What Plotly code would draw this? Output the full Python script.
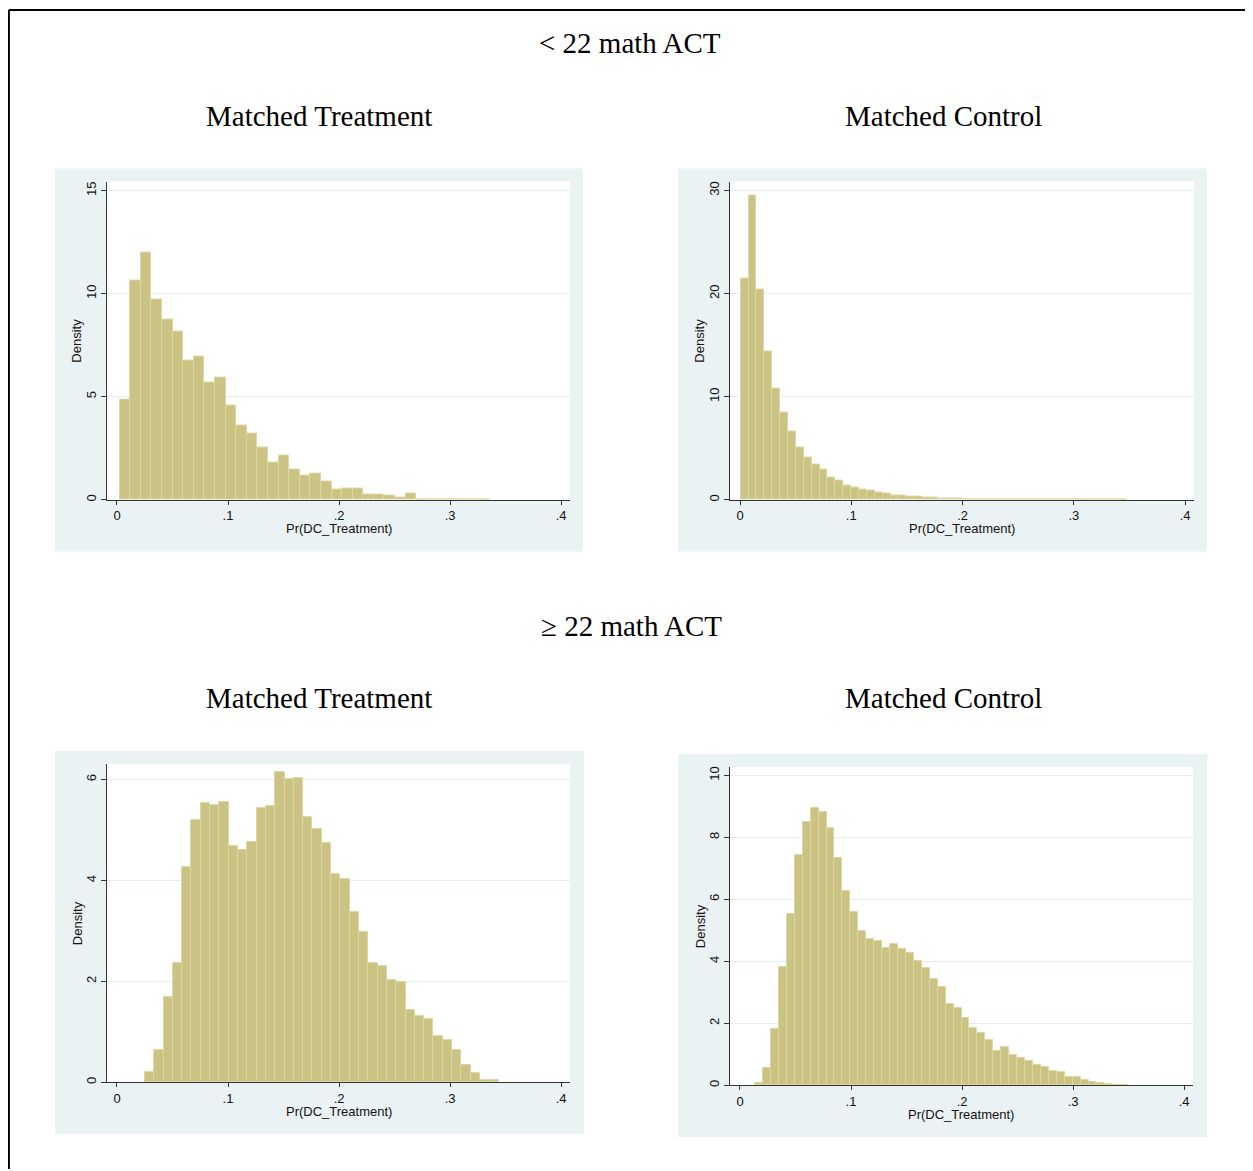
import plotly.graph_objects as go

OFF = 8                      # page body margin of the browser
W, H = 1253 - OFF, 1171 - OFF

# ---------------- data ----------------
group_titles = ["< 22 math ACT", "\u2265 22 math ACT"]
panel_titles = ["Matched Treatment", "Matched Control"]
x_title = "Pr(DC_Treatment)"
y_title = "Density"
x_tickvals = [0, 0.1, 0.2, 0.3, 0.4]
x_ticktext = ["0", ".1", ".2", ".3", ".4"]

# bin start and bin width for each histogram
lo_treat_start, lo_treat_width = 0.0024, 0.00954
lo_ctrl_start, lo_ctrl_width = 0.0006, 0.00709
hi_treat_start, hi_treat_width = 0.0252, 0.00838
hi_ctrl_start, hi_ctrl_width = 0.0136, 0.00715

lo_treat_density = [4.87, 10.65, 11.98, 9.71, 8.74, 8.16, 6.74, 6.95, 5.71, 5.94,
                    4.58, 3.61, 3.23, 2.52, 1.82, 2.13, 1.48, 1.16, 1.29, 0.90,
                    0.48, 0.52, 0.52, 0.24, 0.24, 0.19, 0.13, 0.29, 0.03, 0.03,
                    0, 0, 0, 0, 0.03]
lo_ctrl_density = [21.5, 29.5, 20.4, 14.4, 10.8, 8.45, 6.6, 5.1, 4.1, 3.42,
                   2.93, 2.15, 1.86, 1.41, 1.22, 1.03, 0.93, 0.74, 0.64, 0.45,
                   0.45, 0.35, 0.35, 0.26, 0.26, 0.16, 0.16, 0.08, 0.06, 0.05,
                   0.05, 0.04, 0.04, 0.03, 0.03, 0.02, 0.02, 0.03, 0.03, 0.03,
                   0.03, 0.03, 0.03, 0, 0, 0.03, 0, 0, 0.03]
hi_treat_density = [0.21, 0.63, 1.68, 2.36, 4.26, 5.20, 5.54, 5.50, 5.56, 4.68,
                    4.61, 4.76, 5.44, 5.48, 6.15, 6.01, 6.03, 5.26, 5.02, 4.74,
                    4.13, 4.03, 3.37, 2.97, 2.36, 2.30, 2.03, 1.99, 1.44, 1.32,
                    1.25, 0.91, 0.83, 0.63, 0.35, 0.19, 0.05, 0.05]
hi_ctrl_density = [0.08, 0.57, 1.80, 3.82, 5.53, 7.43, 8.49, 8.95, 8.82, 8.30,
                   7.33, 6.27, 5.59, 4.98, 4.72, 4.66, 4.43, 4.56, 4.40, 4.27,
                   4.01, 3.78, 3.43, 3.17, 2.62, 2.49, 2.17, 1.85, 1.69, 1.46,
                   1.11, 1.24, 0.98, 0.88, 0.78, 0.66, 0.59, 0.46, 0.43, 0.27,
                   0.27, 0.17, 0.11, 0.08, 0.04, 0.02, 0.02]

y_ticks = [[0, 5, 10, 15], [0, 10, 20, 30], [0, 2, 4, 6], [0, 2, 4, 6, 8, 10]]
y_tops = [15.44, 30.87, 6.31, 10.27]

# ---------------- layout geometry (page pixels) ----------------
plot_boxes = [(107, 570, 181, 500), (730, 1194, 181, 500),
              (107, 570, 765, 1084), (730, 1193, 768, 1087)]
bg_boxes = [(55, 583, 168, 552), (678, 1207, 168, 552),
            (55, 584, 752, 1136), (678, 1207, 755, 1139)]

FILL = "rgb(203,195,131)"
EDGE = "rgb(221,215,163)"
BG = "#EAF2F3"
AXC = "#333333"


def px(x):
    return (x - OFF) / W


def py(y):
    return 1 - (y - OFF) / H


fig = go.Figure()

hists = [(lo_treat_start, lo_treat_width, lo_treat_density),
         (lo_ctrl_start, lo_ctrl_width, lo_ctrl_density),
         (hi_treat_start, hi_treat_width, hi_treat_density),
         (hi_ctrl_start, hi_ctrl_width, hi_ctrl_density)]

for i, (start, width, dens) in enumerate(hists):
    n = i + 1
    centers = [start + (k + 0.5) * width for k in range(len(dens))]
    fig.add_trace(go.Bar(
        x=centers, y=dens, width=width,
        marker=dict(color=FILL, line=dict(color=EDGE, width=1)),
        xaxis="x" if n == 1 else f"x{n}",
        yaxis="y" if n == 1 else f"y{n}",
        showlegend=False, hoverinfo="skip",
    ))
    x0, x1, y0, y1 = plot_boxes[i]
    xa = dict(domain=[px(x0), px(x1)], range=[-0.009, 0.408],
              tickvals=x_tickvals, ticktext=x_ticktext,
              ticks="outside", ticklen=4, tickcolor=AXC, tickwidth=1,
              showline=True, linecolor=AXC, linewidth=1,
              showgrid=False, zeroline=False,
              tickfont=dict(family="Liberation Sans", size=13, color="#111"),
              anchor="y" if n == 1 else f"y{n}", fixedrange=True)
    ya = dict(domain=[py(y1), py(y0)], range=[0, y_tops[i]],
              tickvals=y_ticks[i], ticktext=[str(v) for v in y_ticks[i]],
              tickangle=-90,
              ticks="outside", ticklen=5, tickcolor=AXC, tickwidth=1,
              showline=True, linecolor=AXC, linewidth=1,
              showgrid=True, gridcolor="#E4EDEF", gridwidth=1, zeroline=False,
              tickfont=dict(family="Liberation Sans", size=13, color="#111"),
              anchor="x" if n == 1 else f"x{n}", fixedrange=True)
    fig.layout["xaxis" if n == 1 else f"xaxis{n}"] = xa
    fig.layout["yaxis" if n == 1 else f"yaxis{n}"] = ya

shapes = []
for (x0, x1, y0, y1) in bg_boxes:
    shapes.append(dict(type="rect", xref="paper", yref="paper",
                       x0=px(x0), x1=px(x1), y0=py(y1), y1=py(y0),
                       fillcolor=BG, line=dict(width=0), layer="below"))
for (x0, x1, y0, y1) in plot_boxes:
    shapes.append(dict(type="rect", xref="paper", yref="paper",
                       x0=px(x0), x1=px(x1), y0=py(y1), y1=py(y0),
                       fillcolor="white", line=dict(width=0), layer="below"))
# outer frame (left and top edges visible)
shapes.append(dict(type="line", xref="paper", yref="paper",
                   x0=px(8.9), x1=px(8.9), y0=py(8.9), y1=0,
                   line=dict(color="black", width=2)))
shapes.append(dict(type="line", xref="paper", yref="paper",
                   x0=px(8.9), x1=1, y0=py(8.9), y1=py(8.9),
                   line=dict(color="black", width=2)))

annotations = []
serif = dict(family="Liberation Serif", size=29, color="black")
annotations.append(dict(text=group_titles[0], x=px(630), y=py(42), xref="paper",
                        yref="paper", showarrow=False, font=serif,
                        xanchor="center", yanchor="middle"))
annotations.append(dict(text=group_titles[1], x=px(631), y=py(627), xref="paper",
                        yref="paper", showarrow=False, font=serif,
                        xanchor="center", yanchor="middle"))
for (cx, cy, t) in [(319, 115, panel_titles[0]), (943, 115, panel_titles[1]),
                    (319, 699, panel_titles[0]), (943, 699, panel_titles[1])]:
    annotations.append(dict(text=t, x=px(cx), y=py(cy), xref="paper", yref="paper",
                            showarrow=False, font=serif,
                            xanchor="center", yanchor="middle"))

sans = dict(family="Liberation Sans", size=13, color="#111")
for (x0, x1, y0, y1) in plot_boxes:
    annotations.append(dict(text=x_title, x=px((x0 + x1) / 2), y=py(y1 + 29),
                            xref="paper", yref="paper", showarrow=False, font=sans,
                            xanchor="center", yanchor="middle"))
    annotations.append(dict(text=y_title, x=px(x0 - 30), y=py((y0 + y1) / 2),
                            xref="paper", yref="paper", showarrow=False, font=sans,
                            textangle=-90, xanchor="center", yanchor="middle"))

fig.update_layout(
    width=W, height=H,
    margin=dict(l=0, r=0, t=0, b=0),
    paper_bgcolor="white", plot_bgcolor="white",
    shapes=shapes, annotations=annotations,
    bargap=0,
)

fig.write_html("out.html")
